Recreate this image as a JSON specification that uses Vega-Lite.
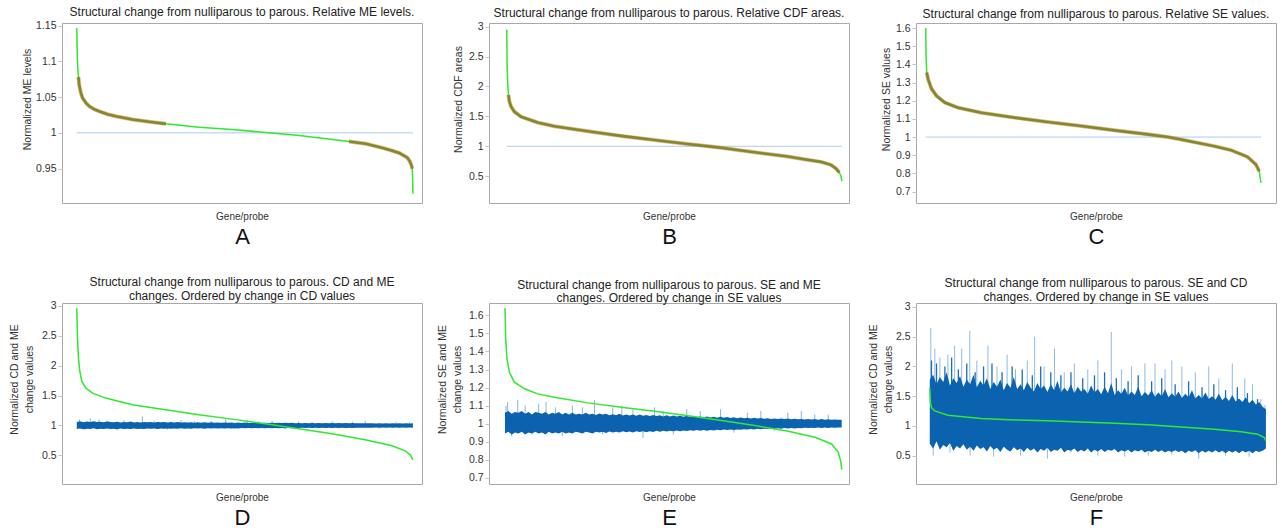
{
"$schema":"https://vega.github.io/schema/vega-lite/v6.json",
"background":"white",
"padding":{"left":8,"top":5,"right":0,"bottom":0},
"config":{
 "font":"Liberation Sans",
 "view":{"stroke":"#a8a8a8","strokeWidth":1},
 "title":{"fontSize":12,"fontWeight":"normal","color":"#222","offset":2,"anchor":"middle","lineHeight":13.5,"limit":0},
 "axisX":{"ticks":false,"domain":false,"grid":false,"labelOverlap":false,"labelPadding":8,"labelFontSize":10,"labelColor":"#333","titleFontSize":22,"titleFontWeight":"normal","titlePadding":5,"titleColor":"#111"},
 "axisY":{"domain":false,"grid":false,"labelOverlap":false,"tickSize":4,"tickColor":"#c4c4c4","labelPadding":2,"labelFontSize":10.5,"labelColor":"#333","titleFontSize":10.5,"titleFontWeight":"normal","titleColor":"#333","titlePadding":7,"titleLineHeight":15}
},
"datasets":{
 "ref":[{"x":0,"v":1},{"x":1000,"v":1}],
 "A":[{"x":0,"v":1.1465},{"x":1,"v":1.12},{"x":2,"v":1.1},{"x":3,"v":1.09},{"x":5,"v":1.078,"m":1},{"x":7,"v":1.0674,"m":1},{"x":12,"v":1.056,"m":1},{"x":17,"v":1.0488,"m":1},{"x":27,"v":1.042,"m":1},{"x":37,"v":1.0372,"m":1},{"x":52,"v":1.033,"m":1},{"x":66,"v":1.0302,"m":1},{"x":91,"v":1.026,"m":1},{"x":116,"v":1.0233,"m":1},{"x":166,"v":1.0186,"m":1},{"x":215,"v":1.0155,"m":1},{"x":265,"v":1.0126,"m":1},{"x":364,"v":1.0079},{"x":463,"v":1.0047},{"x":562,"v":1.0005},{"x":662,"v":0.9963},{"x":761,"v":0.9907},{"x":810,"v":0.988,"m":2},{"x":860,"v":0.9847,"m":2},{"x":910,"v":0.979,"m":2},{"x":939,"v":0.975,"m":2},{"x":959,"v":0.972,"m":2},{"x":974,"v":0.968,"m":2},{"x":984,"v":0.965,"m":2},{"x":991,"v":0.96,"m":2},{"x":996,"v":0.954,"m":2},{"x":998,"v":0.95,"m":2},{"x":999,"v":0.94},{"x":1000,"v":0.915}],
 "B":[{"x":0,"v":2.95},{"x":1,"v":2.36},{"x":3,"v":2.025},{"x":5,"v":1.857,"m":1},{"x":8,"v":1.745,"m":1},{"x":13,"v":1.661,"m":1},{"x":23,"v":1.577,"m":1},{"x":43,"v":1.493,"m":1},{"x":92,"v":1.398,"m":1},{"x":142,"v":1.336,"m":1},{"x":242,"v":1.252,"m":1},{"x":341,"v":1.174,"m":1},{"x":440,"v":1.106,"m":1},{"x":540,"v":1.039,"m":1},{"x":609,"v":0.995,"m":1},{"x":639,"v":0.975,"m":1},{"x":739,"v":0.9,"m":1},{"x":838,"v":0.83,"m":1},{"x":887,"v":0.785,"m":1},{"x":937,"v":0.74,"m":1},{"x":967,"v":0.69,"m":1},{"x":982,"v":0.63,"m":1},{"x":992,"v":0.565,"m":1},{"x":997,"v":0.5},{"x":1000,"v":0.42}],
 "C":[{"x":0,"v":1.6},{"x":1,"v":1.447},{"x":3,"v":1.355,"m":1},{"x":7,"v":1.319,"m":1},{"x":17,"v":1.267,"m":1},{"x":32,"v":1.227,"m":1},{"x":57,"v":1.19,"m":1},{"x":96,"v":1.162,"m":1},{"x":166,"v":1.134,"m":1},{"x":265,"v":1.107,"m":1},{"x":364,"v":1.083,"m":1},{"x":464,"v":1.061,"m":1},{"x":563,"v":1.037,"m":1},{"x":662,"v":1.015,"m":1},{"x":722,"v":1.0,"m":1},{"x":762,"v":0.987,"m":1},{"x":861,"v":0.95,"m":1},{"x":911,"v":0.928,"m":1},{"x":960,"v":0.891,"m":1},{"x":985,"v":0.849,"m":1},{"x":995,"v":0.812,"m":1},{"x":1000,"v":0.748}],
 "Dg":[{"x":0,"v":2.964},{"x":2,"v":2.462},{"x":5,"v":2.127},{"x":9,"v":1.904},{"x":15,"v":1.737},{"x":27,"v":1.625},{"x":47,"v":1.541},{"x":86,"v":1.458},{"x":165,"v":1.346},{"x":264,"v":1.262},{"x":363,"v":1.179},{"x":462,"v":1.106},{"x":561,"v":1.028},{"x":660,"v":0.944},{"x":759,"v":0.86},{"x":858,"v":0.76},{"x":938,"v":0.66},{"x":977,"v":0.576},{"x":992,"v":0.509},{"x":1000,"v":0.425}],
 "Eg":[{"x":0,"v":1.641},{"x":2,"v":1.47},{"x":6,"v":1.359},{"x":13,"v":1.285},{"x":28,"v":1.23},{"x":58,"v":1.193},{"x":97,"v":1.165},{"x":147,"v":1.146},{"x":246,"v":1.115},{"x":345,"v":1.091},{"x":444,"v":1.069},{"x":544,"v":1.044},{"x":643,"v":1.017},{"x":742,"v":0.989},{"x":841,"v":0.957},{"x":921,"v":0.924},{"x":970,"v":0.887},{"x":990,"v":0.841},{"x":998,"v":0.785},{"x":1000,"v":0.744}],
 "Fg":[{"x":0,"v":1.642},{"x":2,"v":1.39},{"x":5,"v":1.307},{"x":15,"v":1.251},{"x":54,"v":1.179},{"x":153,"v":1.123},{"x":252,"v":1.1},{"x":351,"v":1.084},{"x":450,"v":1.067},{"x":550,"v":1.045},{"x":649,"v":1.017},{"x":748,"v":0.983},{"x":847,"v":0.944},{"x":926,"v":0.9},{"x":975,"v":0.86},{"x":995,"v":0.804},{"x":1000,"v":0.75}],
 "Db":[{"x":0,"lo":0.94,"hi":1.06},{"x":10,"lo":0.95,"hi":1.07},{"x":20,"lo":0.935,"hi":1.055},{"x":30,"lo":0.945,"hi":1.065},{"x":40,"lo":0.94,"hi":1.06},{"x":50,"lo":0.952,"hi":1.072},{"x":60,"lo":0.936,"hi":1.056},{"x":70,"lo":0.946,"hi":1.064},{"x":80,"lo":0.94,"hi":1.052},{"x":90,"lo":0.95,"hi":1.066},{"x":100,"lo":0.94,"hi":1.06},{"x":110,"lo":0.946,"hi":1.054},{"x":120,"lo":0.936,"hi":1.064},{"x":130,"lo":0.95,"hi":1.05},{"x":140,"lo":0.94,"hi":1.06},{"x":150,"lo":0.946,"hi":1.055},{"x":160,"lo":0.94,"hi":1.066},{"x":170,"lo":0.95,"hi":1.05},{"x":180,"lo":0.942,"hi":1.06},{"x":190,"lo":0.946,"hi":1.05},{"x":200,"lo":0.94,"hi":1.06},{"x":210,"lo":0.95,"hi":1.052},{"x":220,"lo":0.944,"hi":1.058},{"x":230,"lo":0.948,"hi":1.05},{"x":240,"lo":0.942,"hi":1.058},{"x":250,"lo":0.95,"hi":1.052},{"x":260,"lo":0.945,"hi":1.056},{"x":270,"lo":0.951,"hi":1.05},{"x":280,"lo":0.946,"hi":1.057},{"x":290,"lo":0.95,"hi":1.05},{"x":300,"lo":0.946,"hi":1.056},{"x":310,"lo":0.952,"hi":1.048},{"x":320,"lo":0.947,"hi":1.054},{"x":330,"lo":0.951,"hi":1.048},{"x":340,"lo":0.946,"hi":1.055},{"x":350,"lo":0.953,"hi":1.047},{"x":360,"lo":0.948,"hi":1.052},{"x":370,"lo":0.952,"hi":1.046},{"x":380,"lo":0.947,"hi":1.053},{"x":390,"lo":0.954,"hi":1.046},{"x":400,"lo":0.949,"hi":1.052},{"x":410,"lo":0.953,"hi":1.045},{"x":420,"lo":0.948,"hi":1.05},{"x":430,"lo":0.954,"hi":1.044},{"x":440,"lo":0.95,"hi":1.05},{"x":450,"lo":0.955,"hi":1.044},{"x":460,"lo":0.95,"hi":1.049},{"x":470,"lo":0.955,"hi":1.043},{"x":480,"lo":0.951,"hi":1.048},{"x":490,"lo":0.956,"hi":1.043},{"x":500,"lo":0.952,"hi":1.048},{"x":510,"lo":0.956,"hi":1.042},{"x":520,"lo":0.952,"hi":1.047},{"x":530,"lo":0.957,"hi":1.042},{"x":540,"lo":0.953,"hi":1.046},{"x":550,"lo":0.957,"hi":1.041},{"x":560,"lo":0.953,"hi":1.046},{"x":570,"lo":0.958,"hi":1.041},{"x":580,"lo":0.954,"hi":1.045},{"x":590,"lo":0.958,"hi":1.04},{"x":600,"lo":0.954,"hi":1.045},{"x":610,"lo":0.958,"hi":1.04},{"x":620,"lo":0.955,"hi":1.044},{"x":630,"lo":0.959,"hi":1.04},{"x":640,"lo":0.955,"hi":1.044},{"x":650,"lo":0.959,"hi":1.039},{"x":660,"lo":0.956,"hi":1.043},{"x":670,"lo":0.96,"hi":1.039},{"x":680,"lo":0.956,"hi":1.043},{"x":690,"lo":0.96,"hi":1.038},{"x":700,"lo":0.957,"hi":1.042},{"x":710,"lo":0.96,"hi":1.038},{"x":720,"lo":0.957,"hi":1.042},{"x":730,"lo":0.961,"hi":1.037},{"x":740,"lo":0.958,"hi":1.041},{"x":750,"lo":0.961,"hi":1.037},{"x":760,"lo":0.958,"hi":1.041},{"x":770,"lo":0.962,"hi":1.036},{"x":780,"lo":0.958,"hi":1.04},{"x":790,"lo":0.962,"hi":1.036},{"x":800,"lo":0.959,"hi":1.04},{"x":810,"lo":0.962,"hi":1.036},{"x":820,"lo":0.959,"hi":1.04},{"x":830,"lo":0.963,"hi":1.035},{"x":840,"lo":0.96,"hi":1.039},{"x":850,"lo":0.963,"hi":1.035},{"x":860,"lo":0.96,"hi":1.039},{"x":870,"lo":0.963,"hi":1.035},{"x":880,"lo":0.96,"hi":1.038},{"x":890,"lo":0.964,"hi":1.034},{"x":900,"lo":0.961,"hi":1.038},{"x":910,"lo":0.964,"hi":1.034},{"x":920,"lo":0.961,"hi":1.038},{"x":930,"lo":0.964,"hi":1.034},{"x":940,"lo":0.961,"hi":1.037},{"x":950,"lo":0.965,"hi":1.034},{"x":960,"lo":0.962,"hi":1.037},{"x":970,"lo":0.965,"hi":1.033},{"x":980,"lo":0.962,"hi":1.037},{"x":990,"lo":0.965,"hi":1.033},{"x":1000,"lo":0.963,"hi":1.036}],
 "Ds":[{"x":8,"lo":1,"hi":1.1},{"x":25,"lo":0.93,"hi":1},{"x":40,"lo":1,"hi":1.12},{"x":66,"lo":1,"hi":1.1},{"x":90,"lo":1,"hi":1.08},{"x":120,"lo":0.92,"hi":1},{"x":140,"lo":1,"hi":1.09},{"x":195,"lo":1,"hi":1.15},{"x":230,"lo":1,"hi":1.08},{"x":270,"lo":0.93,"hi":1},{"x":310,"lo":1,"hi":1.09},{"x":350,"lo":1,"hi":1.07},{"x":400,"lo":1,"hi":1.08},{"x":443,"lo":1,"hi":1.1},{"x":470,"lo":0.94,"hi":1},{"x":507,"lo":1,"hi":1.09},{"x":540,"lo":1,"hi":1.07},{"x":581,"lo":1,"hi":1.08},{"x":620,"lo":0.94,"hi":1},{"x":660,"lo":1,"hi":1.07},{"x":700,"lo":1,"hi":1.06},{"x":760,"lo":1,"hi":1.07},{"x":820,"lo":1,"hi":1.06},{"x":858,"lo":1,"hi":1.08},{"x":900,"lo":0.95,"hi":1},{"x":950,"lo":1,"hi":1.06},{"x":990,"lo":1,"hi":1.05}],
 "Eb":[{"x":0,"lo":0.945,"hi":1.06},{"x":10,"lo":0.955,"hi":1.07},{"x":20,"lo":0.94,"hi":1.055},{"x":30,"lo":0.95,"hi":1.065},{"x":40,"lo":0.945,"hi":1.06},{"x":50,"lo":0.955,"hi":1.07},{"x":60,"lo":0.94,"hi":1.055},{"x":70,"lo":0.95,"hi":1.065},{"x":80,"lo":0.945,"hi":1.05},{"x":90,"lo":0.955,"hi":1.065},{"x":100,"lo":0.945,"hi":1.06},{"x":110,"lo":0.95,"hi":1.055},{"x":120,"lo":0.94,"hi":1.065},{"x":130,"lo":0.955,"hi":1.05},{"x":140,"lo":0.945,"hi":1.06},{"x":150,"lo":0.95,"hi":1.055},{"x":160,"lo":0.945,"hi":1.065},{"x":170,"lo":0.955,"hi":1.05},{"x":180,"lo":0.945,"hi":1.06},{"x":190,"lo":0.95,"hi":1.05},{"x":200,"lo":0.945,"hi":1.06},{"x":210,"lo":0.955,"hi":1.05},{"x":220,"lo":0.95,"hi":1.055},{"x":230,"lo":0.945,"hi":1.05},{"x":240,"lo":0.955,"hi":1.06},{"x":250,"lo":0.95,"hi":1.05},{"x":260,"lo":0.945,"hi":1.055},{"x":270,"lo":0.955,"hi":1.048},{"x":280,"lo":0.95,"hi":1.056},{"x":290,"lo":0.955,"hi":1.05},{"x":300,"lo":0.948,"hi":1.055},{"x":310,"lo":0.956,"hi":1.046},{"x":320,"lo":0.95,"hi":1.052},{"x":330,"lo":0.955,"hi":1.046},{"x":340,"lo":0.95,"hi":1.054},{"x":350,"lo":0.957,"hi":1.045},{"x":360,"lo":0.952,"hi":1.05},{"x":370,"lo":0.956,"hi":1.045},{"x":380,"lo":0.95,"hi":1.05},{"x":390,"lo":0.958,"hi":1.044},{"x":400,"lo":0.953,"hi":1.05},{"x":410,"lo":0.957,"hi":1.043},{"x":420,"lo":0.952,"hi":1.048},{"x":430,"lo":0.958,"hi":1.042},{"x":440,"lo":0.954,"hi":1.048},{"x":450,"lo":0.96,"hi":1.042},{"x":460,"lo":0.955,"hi":1.046},{"x":470,"lo":0.96,"hi":1.04},{"x":480,"lo":0.956,"hi":1.046},{"x":490,"lo":0.961,"hi":1.04},{"x":500,"lo":0.957,"hi":1.045},{"x":510,"lo":0.962,"hi":1.039},{"x":520,"lo":0.958,"hi":1.044},{"x":530,"lo":0.962,"hi":1.038},{"x":540,"lo":0.959,"hi":1.043},{"x":550,"lo":0.963,"hi":1.037},{"x":560,"lo":0.96,"hi":1.042},{"x":570,"lo":0.964,"hi":1.036},{"x":580,"lo":0.96,"hi":1.04},{"x":590,"lo":0.965,"hi":1.035},{"x":600,"lo":0.961,"hi":1.04},{"x":610,"lo":0.965,"hi":1.034},{"x":620,"lo":0.962,"hi":1.038},{"x":630,"lo":0.966,"hi":1.033},{"x":640,"lo":0.963,"hi":1.038},{"x":650,"lo":0.967,"hi":1.032},{"x":660,"lo":0.964,"hi":1.036},{"x":670,"lo":0.968,"hi":1.031},{"x":680,"lo":0.965,"hi":1.035},{"x":690,"lo":0.968,"hi":1.03},{"x":700,"lo":0.966,"hi":1.034},{"x":710,"lo":0.969,"hi":1.03},{"x":720,"lo":0.967,"hi":1.033},{"x":730,"lo":0.97,"hi":1.029},{"x":740,"lo":0.968,"hi":1.032},{"x":750,"lo":0.971,"hi":1.028},{"x":760,"lo":0.969,"hi":1.031},{"x":770,"lo":0.972,"hi":1.027},{"x":780,"lo":0.97,"hi":1.03},{"x":790,"lo":0.973,"hi":1.026},{"x":800,"lo":0.971,"hi":1.029},{"x":810,"lo":0.974,"hi":1.026},{"x":820,"lo":0.972,"hi":1.028},{"x":830,"lo":0.975,"hi":1.025},{"x":840,"lo":0.973,"hi":1.028},{"x":850,"lo":0.975,"hi":1.024},{"x":860,"lo":0.973,"hi":1.027},{"x":870,"lo":0.976,"hi":1.024},{"x":880,"lo":0.974,"hi":1.026},{"x":890,"lo":0.977,"hi":1.023},{"x":900,"lo":0.975,"hi":1.026},{"x":910,"lo":0.977,"hi":1.023},{"x":920,"lo":0.975,"hi":1.025},{"x":930,"lo":0.978,"hi":1.022},{"x":940,"lo":0.976,"hi":1.025},{"x":950,"lo":0.978,"hi":1.022},{"x":960,"lo":0.976,"hi":1.024},{"x":970,"lo":0.979,"hi":1.021},{"x":980,"lo":0.977,"hi":1.023},{"x":990,"lo":0.979,"hi":1.021},{"x":1000,"lo":0.978,"hi":1.022}],
 "Es":[{"x":3,"lo":1,"hi":1.1},{"x":8,"lo":1,"hi":1.12},{"x":20,"lo":0.93,"hi":1},{"x":38,"lo":1,"hi":1.13},{"x":60,"lo":1,"hi":1.1},{"x":80,"lo":0.94,"hi":1},{"x":100,"lo":1,"hi":1.11},{"x":122,"lo":1,"hi":1.12},{"x":150,"lo":1,"hi":1.09},{"x":170,"lo":0.93,"hi":1},{"x":200,"lo":1,"hi":1.1},{"x":230,"lo":1,"hi":1.09},{"x":266,"lo":1,"hi":1.13},{"x":290,"lo":0.94,"hi":1},{"x":320,"lo":1,"hi":1.09},{"x":347,"lo":1,"hi":1.1},{"x":380,"lo":1,"hi":1.08},{"x":410,"lo":0.92,"hi":1},{"x":444,"lo":1,"hi":1.09},{"x":470,"lo":1,"hi":1.07},{"x":500,"lo":0.94,"hi":1},{"x":540,"lo":1,"hi":1.08},{"x":580,"lo":1,"hi":1.07},{"x":640,"lo":1,"hi":1.08},{"x":680,"lo":0.95,"hi":1},{"x":720,"lo":1,"hi":1.06},{"x":760,"lo":1,"hi":1.07},{"x":800,"lo":0.96,"hi":1},{"x":840,"lo":1,"hi":1.06},{"x":880,"lo":1,"hi":1.07},{"x":920,"lo":1,"hi":1.05},{"x":960,"lo":1,"hi":1.05}],
 "Fb":[{"x":0,"lo":0.7,"hi":1.78},{"x":10,"lo":0.62,"hi":1.86},{"x":20,"lo":0.74,"hi":1.7},{"x":30,"lo":0.6,"hi":1.82},{"x":40,"lo":0.68,"hi":1.74},{"x":50,"lo":0.64,"hi":1.9},{"x":60,"lo":0.71,"hi":1.68},{"x":70,"lo":0.58,"hi":1.8},{"x":80,"lo":0.66,"hi":1.72},{"x":90,"lo":0.62,"hi":1.84},{"x":100,"lo":0.69,"hi":1.66},{"x":110,"lo":0.6,"hi":1.78},{"x":120,"lo":0.65,"hi":1.7},{"x":130,"lo":0.58,"hi":1.86},{"x":140,"lo":0.67,"hi":1.65},{"x":150,"lo":0.61,"hi":1.76},{"x":160,"lo":0.64,"hi":1.68},{"x":170,"lo":0.57,"hi":1.8},{"x":180,"lo":0.66,"hi":1.62},{"x":190,"lo":0.6,"hi":1.74},{"x":200,"lo":0.63,"hi":1.66},{"x":210,"lo":0.56,"hi":1.78},{"x":220,"lo":0.65,"hi":1.6},{"x":230,"lo":0.6,"hi":1.72},{"x":240,"lo":0.57,"hi":1.64},{"x":250,"lo":0.64,"hi":1.82},{"x":260,"lo":0.59,"hi":1.62},{"x":270,"lo":0.62,"hi":1.7},{"x":280,"lo":0.56,"hi":1.6},{"x":290,"lo":0.63,"hi":1.74},{"x":300,"lo":0.58,"hi":1.64},{"x":310,"lo":0.62,"hi":1.58},{"x":320,"lo":0.55,"hi":1.72},{"x":330,"lo":0.61,"hi":1.62},{"x":340,"lo":0.58,"hi":1.68},{"x":350,"lo":0.63,"hi":1.57},{"x":360,"lo":0.56,"hi":1.7},{"x":370,"lo":0.6,"hi":1.6},{"x":380,"lo":0.58,"hi":1.76},{"x":390,"lo":0.63,"hi":1.56},{"x":400,"lo":0.55,"hi":1.64},{"x":410,"lo":0.6,"hi":1.58},{"x":420,"lo":0.58,"hi":1.7},{"x":430,"lo":0.62,"hi":1.55},{"x":440,"lo":0.56,"hi":1.66},{"x":450,"lo":0.6,"hi":1.58},{"x":460,"lo":0.57,"hi":1.62},{"x":470,"lo":0.62,"hi":1.54},{"x":480,"lo":0.55,"hi":1.68},{"x":490,"lo":0.6,"hi":1.56},{"x":500,"lo":0.57,"hi":1.62},{"x":510,"lo":0.61,"hi":1.53},{"x":520,"lo":0.56,"hi":1.66},{"x":530,"lo":0.6,"hi":1.55},{"x":540,"lo":0.58,"hi":1.72},{"x":550,"lo":0.61,"hi":1.52},{"x":560,"lo":0.55,"hi":1.6},{"x":570,"lo":0.59,"hi":1.54},{"x":580,"lo":0.57,"hi":1.64},{"x":590,"lo":0.6,"hi":1.51},{"x":600,"lo":0.55,"hi":1.58},{"x":610,"lo":0.59,"hi":1.52},{"x":620,"lo":0.57,"hi":1.66},{"x":630,"lo":0.6,"hi":1.5},{"x":640,"lo":0.55,"hi":1.57},{"x":650,"lo":0.58,"hi":1.51},{"x":660,"lo":0.56,"hi":1.6},{"x":670,"lo":0.6,"hi":1.49},{"x":680,"lo":0.56,"hi":1.56},{"x":690,"lo":0.59,"hi":1.5},{"x":700,"lo":0.55,"hi":1.62},{"x":710,"lo":0.58,"hi":1.48},{"x":720,"lo":0.56,"hi":1.55},{"x":730,"lo":0.59,"hi":1.49},{"x":740,"lo":0.56,"hi":1.58},{"x":750,"lo":0.58,"hi":1.47},{"x":760,"lo":0.54,"hi":1.54},{"x":770,"lo":0.58,"hi":1.48},{"x":780,"lo":0.56,"hi":1.6},{"x":790,"lo":0.59,"hi":1.46},{"x":800,"lo":0.54,"hi":1.52},{"x":810,"lo":0.58,"hi":1.46},{"x":820,"lo":0.55,"hi":1.56},{"x":830,"lo":0.58,"hi":1.45},{"x":840,"lo":0.55,"hi":1.5},{"x":850,"lo":0.59,"hi":1.44},{"x":860,"lo":0.55,"hi":1.54},{"x":870,"lo":0.58,"hi":1.43},{"x":880,"lo":0.54,"hi":1.49},{"x":890,"lo":0.58,"hi":1.42},{"x":900,"lo":0.55,"hi":1.52},{"x":910,"lo":0.58,"hi":1.41},{"x":920,"lo":0.54,"hi":1.46},{"x":930,"lo":0.58,"hi":1.4},{"x":940,"lo":0.55,"hi":1.48},{"x":950,"lo":0.58,"hi":1.38},{"x":960,"lo":0.54,"hi":1.44},{"x":970,"lo":0.58,"hi":1.36},{"x":980,"lo":0.56,"hi":1.4},{"x":990,"lo":0.58,"hi":1.32},{"x":1000,"lo":0.62,"hi":1.28}],
 "Fd":[{"x":5,"lo":1.5,"hi":2.1},{"x":20,"lo":1.5,"hi":2.05},{"x":45,"lo":1.5,"hi":2.0},{"x":65,"lo":1.5,"hi":2.15},{"x":85,"lo":1.5,"hi":1.95},{"x":110,"lo":1.5,"hi":2.05},{"x":135,"lo":1.5,"hi":1.9},{"x":160,"lo":1.5,"hi":2.0},{"x":185,"lo":1.5,"hi":2.05},{"x":215,"lo":1.4,"hi":1.9},{"x":245,"lo":1.4,"hi":2.0},{"x":275,"lo":1.4,"hi":1.95},{"x":305,"lo":1.4,"hi":1.85},{"x":330,"lo":1.4,"hi":2.0},{"x":360,"lo":1.4,"hi":1.9},{"x":390,"lo":1.4,"hi":1.85},{"x":420,"lo":1.4,"hi":1.9},{"x":455,"lo":1.4,"hi":1.8},{"x":490,"lo":1.4,"hi":1.85},{"x":520,"lo":1.4,"hi":1.9},{"x":555,"lo":1.4,"hi":1.8},{"x":590,"lo":1.3,"hi":1.75},{"x":620,"lo":1.3,"hi":1.85},{"x":660,"lo":1.3,"hi":1.75},{"x":690,"lo":1.3,"hi":1.8},{"x":730,"lo":1.3,"hi":1.7},{"x":770,"lo":1.3,"hi":1.75},{"x":810,"lo":1.3,"hi":1.65},{"x":845,"lo":1.3,"hi":1.7},{"x":880,"lo":1.2,"hi":1.6},{"x":915,"lo":1.2,"hi":1.65},{"x":945,"lo":1.2,"hi":1.55},{"x":975,"lo":1.2,"hi":1.45}],
 "Fs":[{"x":3,"lo":1.2,"hi":2.65},{"x":15,"lo":1.2,"hi":2.3},{"x":30,"lo":1.2,"hi":2.15},{"x":54,"lo":1.2,"hi":2.2},{"x":74,"lo":1.2,"hi":2.35},{"x":95,"lo":1.2,"hi":2.3},{"x":119,"lo":1.2,"hi":2.6},{"x":140,"lo":1.2,"hi":2.1},{"x":173,"lo":1.2,"hi":2.35},{"x":200,"lo":1.2,"hi":2.0},{"x":230,"lo":1.2,"hi":2.2},{"x":255,"lo":1.2,"hi":1.95},{"x":290,"lo":1.2,"hi":2.1},{"x":312,"lo":1.2,"hi":2.5},{"x":340,"lo":1.2,"hi":2.0},{"x":371,"lo":1.2,"hi":2.3},{"x":400,"lo":1.2,"hi":1.9},{"x":430,"lo":1.2,"hi":2.05},{"x":470,"lo":1.2,"hi":1.95},{"x":500,"lo":1.2,"hi":2.1},{"x":540,"lo":1.2,"hi":2.58},{"x":570,"lo":1.2,"hi":1.95},{"x":600,"lo":1.1,"hi":2.0},{"x":640,"lo":1.1,"hi":2.05},{"x":670,"lo":1.1,"hi":2.05},{"x":700,"lo":1.1,"hi":1.95},{"x":720,"lo":1.1,"hi":2.1},{"x":750,"lo":1.1,"hi":2.0},{"x":790,"lo":1.1,"hi":1.9},{"x":830,"lo":1.1,"hi":2.0},{"x":860,"lo":1.1,"hi":1.8},{"x":900,"lo":1.1,"hi":2.05},{"x":937,"lo":1.1,"hi":1.8},{"x":960,"lo":1.0,"hi":1.7},{"x":985,"lo":1.0,"hi":1.45},{"x":997,"lo":1.0,"hi":1.35},{"x":10,"lo":0.5,"hi":0.8},{"x":60,"lo":0.55,"hi":0.8},{"x":120,"lo":0.5,"hi":0.8},{"x":190,"lo":0.48,"hi":0.8},{"x":270,"lo":0.5,"hi":0.8},{"x":350,"lo":0.45,"hi":0.75},{"x":420,"lo":0.55,"hi":0.75},{"x":500,"lo":0.5,"hi":0.75},{"x":580,"lo":0.48,"hi":0.7},{"x":650,"lo":0.5,"hi":0.7},{"x":720,"lo":0.52,"hi":0.7},{"x":800,"lo":0.45,"hi":0.7},{"x":880,"lo":0.5,"hi":0.7},{"x":950,"lo":0.48,"hi":0.7}]
},
"columns":3,
"bounds":"flush",
"spacing":{"row":100,"column":67},
"concat":[
 {"width":360,"height":180,"title":{"text":"Structural change from nulliparous to parous. Relative ME levels."},
  "layer":[
   {"data":{"name":"ref"},"mark":{"type":"line","color":"#a9cdea","strokeWidth":1},
    "encoding":{"x":{"field":"x","type":"quantitative","scale":{"domain":[-44,1027],"nice":false,"zero":false},"axis":{"values":[491.5],"labelExpr":"'Gene/probe'","title":"A"}},
     "y":{"field":"v","type":"quantitative","scale":{"domain":[0.902,1.1535],"nice":false,"zero":false},"axis":{"values":[0.95,1,1.05,1.1,1.15],"tickCount":40,"labelOverlap":false,"labelBound":false,"format":"~g","title":"Normalized ME levels","titleY":76,"titlePadding":3}}}},
   {"data":{"name":"A"},"mark":{"type":"line","color":"#2fe82f","strokeWidth":1.5},"encoding":{"x":{"field":"x","type":"quantitative"},"y":{"field":"v","type":"quantitative"}}},
   {"data":{"name":"A"},"transform":[{"filter":"datum.m > 0"}],"mark":{"type":"line","color":"#e07a3a","strokeWidth":4,"opacity":0.55},"encoding":{"x":{"field":"x","type":"quantitative"},"y":{"field":"v","type":"quantitative"},"detail":{"field":"m","type":"nominal"}}},
   {"data":{"name":"A"},"transform":[{"filter":"datum.m > 0"}],"mark":{"type":"line","color":"#7f8b2c","strokeWidth":2.6},"encoding":{"x":{"field":"x","type":"quantitative"},"y":{"field":"v","type":"quantitative"},"detail":{"field":"m","type":"nominal"}}}
  ]},
 {"width":360,"height":180,"title":{"text":"Structural change from nulliparous to parous. Relative CDF areas."},
  "layer":[
   {"data":{"name":"ref"},"mark":{"type":"line","color":"#a9cdea","strokeWidth":1},
    "encoding":{"x":{"field":"x","type":"quantitative","scale":{"domain":[-53,1021],"nice":false,"zero":false},"axis":{"values":[484],"labelExpr":"'Gene/probe'","title":"B"}},
     "y":{"field":"v","type":"quantitative","scale":{"domain":[0.053,3.06],"nice":false,"zero":false},"axis":{"values":[0.5,1,1.5,2,2.5,3],"tickCount":40,"labelOverlap":false,"labelBound":false,"format":"~g","title":"Normalized CDF areas","titleY":76,"titlePadding":5}}}},
   {"data":{"name":"B"},"mark":{"type":"line","color":"#2fe82f","strokeWidth":1.5},"encoding":{"x":{"field":"x","type":"quantitative"},"y":{"field":"v","type":"quantitative"}}},
   {"data":{"name":"B"},"transform":[{"filter":"datum.m > 0"}],"mark":{"type":"line","color":"#e07a3a","strokeWidth":4,"opacity":0.55},"encoding":{"x":{"field":"x","type":"quantitative"},"y":{"field":"v","type":"quantitative"},"detail":{"field":"m","type":"nominal"}}},
   {"data":{"name":"B"},"transform":[{"filter":"datum.m > 0"}],"mark":{"type":"line","color":"#7f8b2c","strokeWidth":2.6},"encoding":{"x":{"field":"x","type":"quantitative"},"y":{"field":"v","type":"quantitative"},"detail":{"field":"m","type":"nominal"}}}
  ]},
 {"width":360,"height":180,"title":{"text":"Structural change from nulliparous to parous. Relative SE values."},
  "layer":[
   {"data":{"name":"ref"},"mark":{"type":"line","color":"#a9cdea","strokeWidth":1},
    "encoding":{"x":{"field":"x","type":"quantitative","scale":{"domain":[-29,1045],"nice":false,"zero":false},"axis":{"values":[508],"labelExpr":"'Gene/probe'","title":"C"}},
     "y":{"field":"v","type":"quantitative","scale":{"domain":[0.637,1.628],"nice":false,"zero":false},"axis":{"values":[0.7,0.8,0.9,1,1.1,1.2,1.3,1.4,1.5,1.6],"tickCount":40,"labelOverlap":false,"labelBound":false,"format":"~g","title":"Normalized SE values","titleY":76,"titlePadding":4}}}},
   {"data":{"name":"C"},"mark":{"type":"line","color":"#2fe82f","strokeWidth":1.5},"encoding":{"x":{"field":"x","type":"quantitative"},"y":{"field":"v","type":"quantitative"}}},
   {"data":{"name":"C"},"transform":[{"filter":"datum.m > 0"}],"mark":{"type":"line","color":"#e07a3a","strokeWidth":4,"opacity":0.55},"encoding":{"x":{"field":"x","type":"quantitative"},"y":{"field":"v","type":"quantitative"},"detail":{"field":"m","type":"nominal"}}},
   {"data":{"name":"C"},"transform":[{"filter":"datum.m > 0"}],"mark":{"type":"line","color":"#7f8b2c","strokeWidth":2.6},"encoding":{"x":{"field":"x","type":"quantitative"},"y":{"field":"v","type":"quantitative"},"detail":{"field":"m","type":"nominal"}}}
  ]},
 {"width":360,"height":181,"title":{"text":["Structural change from nulliparous to parous. CD and ME","changes. Ordered by change in CD values"],"offset":-2},
  "layer":[
   {"data":{"name":"Ds"},"mark":{"type":"rule","color":"#86b6e2","strokeWidth":1},
    "encoding":{"x":{"field":"x","type":"quantitative","scale":{"domain":[-44,1027],"nice":false,"zero":false},"axis":{"values":[491.5],"labelExpr":"'Gene/probe'","title":"D"}},
     "y":{"field":"lo","type":"quantitative","scale":{"domain":[0.02,3.05],"nice":false,"zero":false},"axis":{"values":[0.5,1,1.5,2,2.5,3],"tickCount":40,"labelOverlap":false,"labelBound":false,"format":"~g","title":["Normalized CD and ME","change values"],"titleY":76,"titlePadding":7}},"y2":{"field":"hi"}}},
   {"data":{"name":"Db"},"mark":{"type":"area","color":"#0b63b0","interpolate":"linear"},"encoding":{"x":{"field":"x","type":"quantitative"},"y":{"field":"lo","type":"quantitative"},"y2":{"field":"hi"}}},
   {"data":{"name":"Dg"},"mark":{"type":"line","color":"#2fe82f","strokeWidth":1.5},"encoding":{"x":{"field":"x","type":"quantitative"},"y":{"field":"v","type":"quantitative"}}}
  ]},
 {"width":360,"height":181,"title":{"text":["Structural change from nulliparous to parous. SE and ME","changes. Ordered by change in SE values"],"offset":-2},
  "layer":[
   {"data":{"name":"Es"},"mark":{"type":"rule","color":"#86b6e2","strokeWidth":1},
    "encoding":{"x":{"field":"x","type":"quantitative","scale":{"domain":[-47.5,1021.7],"nice":false,"zero":false},"axis":{"values":[487],"labelExpr":"'Gene/probe'","title":"E"}},
     "y":{"field":"lo","type":"quantitative","scale":{"domain":[0.665,1.669],"nice":false,"zero":false},"axis":{"values":[0.7,0.8,0.9,1,1.1,1.2,1.3,1.4,1.5,1.6],"tickCount":40,"labelOverlap":false,"labelBound":false,"format":"~g","title":["Normalized SE and ME","change values"],"titleY":76,"titlePadding":6}},"y2":{"field":"hi"}}},
   {"data":{"name":"Eb"},"mark":{"type":"area","color":"#0b63b0","interpolate":"linear"},"encoding":{"x":{"field":"x","type":"quantitative"},"y":{"field":"lo","type":"quantitative"},"y2":{"field":"hi"}}},
   {"data":{"name":"Eg"},"mark":{"type":"line","color":"#2fe82f","strokeWidth":1.5},"encoding":{"x":{"field":"x","type":"quantitative"},"y":{"field":"v","type":"quantitative"}}}
  ]},
 {"width":360,"height":181,"title":{"text":["Structural change from nulliparous to parous. SE and CD","changes. Ordered by change in SE values"],"offset":-2},
  "layer":[
   {"data":{"name":"Fs"},"mark":{"type":"rule","color":"#8dbbe5","strokeWidth":1},
    "encoding":{"x":{"field":"x","type":"quantitative","scale":{"domain":[-41,1030],"nice":false,"zero":false},"axis":{"values":[494.5],"labelExpr":"'Gene/probe'","title":"F"}},
     "y":{"field":"lo","type":"quantitative","scale":{"domain":[0.022,3.067],"nice":false,"zero":false},"axis":{"values":[0.5,1,1.5,2,2.5,3],"tickCount":40,"labelOverlap":false,"labelBound":false,"format":"~g","title":["Normalized CD and ME","change values"],"titleY":76,"titlePadding":2}},"y2":{"field":"hi"}}},
   {"data":{"name":"Fd"},"mark":{"type":"rule","color":"#1a6cbc","strokeWidth":1.3},"encoding":{"x":{"field":"x","type":"quantitative"},"y":{"field":"lo","type":"quantitative"},"y2":{"field":"hi"}}},
   {"data":{"name":"Fb"},"mark":{"type":"area","color":"#0b63b0","interpolate":"linear"},"encoding":{"x":{"field":"x","type":"quantitative"},"y":{"field":"lo","type":"quantitative"},"y2":{"field":"hi"}}},
   {"data":{"name":"Fg"},"mark":{"type":"line","color":"#2fe82f","strokeWidth":1.5},"encoding":{"x":{"field":"x","type":"quantitative"},"y":{"field":"v","type":"quantitative"}}}
  ]}
]
}
